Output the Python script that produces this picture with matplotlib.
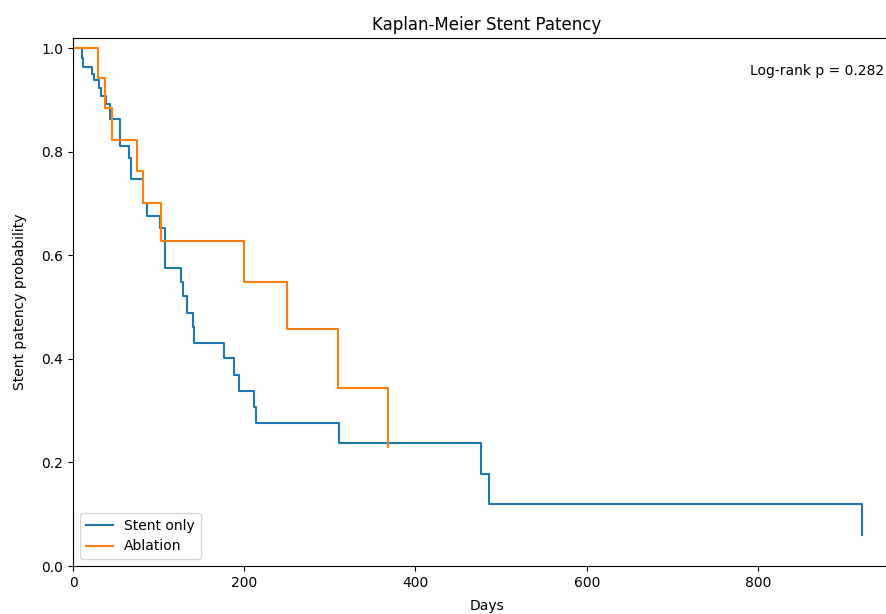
import matplotlib
matplotlib.use("Agg")
import matplotlib.pyplot as plt

# Kaplan-Meier step data
stent_days = [0, 10, 12, 22, 25, 30, 33, 38, 43, 55, 65, 68, 82, 87, 102, 107,
              126, 128, 133, 140, 141, 176, 188, 194, 211, 214, 311, 477, 486, 921]
stent_surv = [1.0, 0.982, 0.964, 0.951, 0.938, 0.924, 0.908, 0.892, 0.863, 0.811,
              0.789, 0.747, 0.702, 0.676, 0.652, 0.575, 0.549, 0.522, 0.489, 0.462,
              0.430, 0.401, 0.369, 0.338, 0.308, 0.277, 0.237, 0.178, 0.119, 0.059]

abl_days = [0, 29.5, 36.8, 45.2, 75.3, 82.1, 102.8, 199.7, 249.6, 309.8, 368.2]
abl_surv = [1.0, 0.943, 0.884, 0.823, 0.763, 0.702, 0.627, 0.549, 0.457, 0.343, 0.229]

series_labels = ["Stent only", "Ablation"]
p_text = "Log-rank p = 0.282"

fig = plt.figure(figsize=(8.87, 6.14), dpi=100)
ax = fig.add_axes([73 / 887, 48 / 614, 828 / 887, 528 / 614])

ax.step(stent_days, stent_surv, where="post", color="#1f77b4", label=series_labels[0])
ax.step(abl_days, abl_surv, where="post", color="#ff7f0e", label=series_labels[1])

ax.set_xlim(left=0)
ax.set_ylim(0, 1.02)
ax.spines["right"].set_visible(False)
ax.set_title("Kaplan-Meier Stent Patency")
ax.set_xlabel("Days", labelpad=7)
ax.set_ylabel("Stent patency probability", labelpad=10)
ax.legend(loc="lower left")
ax.text(0.98, 0.95, p_text, transform=ax.transAxes, ha="right", va="top", fontsize=10)

fig.savefig("out.png", dpi=100)
